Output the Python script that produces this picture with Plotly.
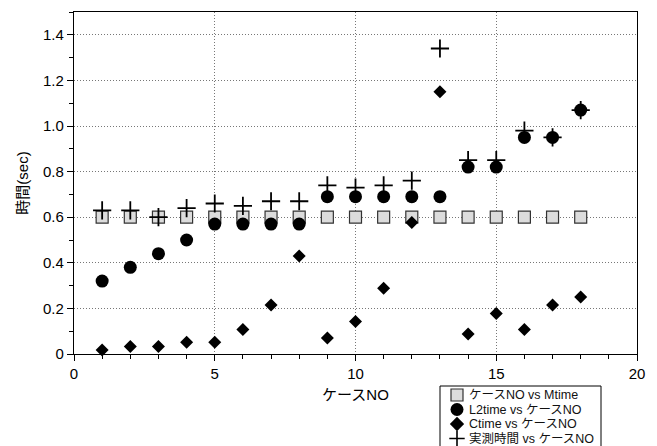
import plotly.graph_objects as go

case_no = list(range(1, 19))
mtime = [0.6] * 18
l2time = [0.32, 0.38, 0.44, 0.50, 0.57, 0.57, 0.57, 0.57, 0.69, 0.69, 0.69, 0.69, 0.69,
          0.82, 0.82, 0.95, 0.95, 1.07]
ctime = [0.018, 0.033, 0.033, 0.052, 0.052, 0.107, 0.215, 0.43, 0.07, 0.143, 0.288, 0.577,
         1.15, 0.088, 0.178, 0.107, 0.215, 0.25]
measured = [0.63, 0.63, 0.60, 0.64, 0.66, 0.65, 0.67, 0.67, 0.74, 0.73, 0.74, 0.76, 1.34,
            0.85, 0.85, 0.98, 0.95, 1.07]

series_names = ["ケースNO vs Mtime", "L2time vs ケースNO", "Ctime vs ケースNO", "実測時間 vs ケースNO"]

x_tick_vals = [0, 5, 10, 15, 20]
x_tick_text = ["0", "5", "10", "15", "20"]
y_tick_vals = [0, 0.2, 0.4, 0.6, 0.8, 1.0, 1.2, 1.4]
y_tick_text = ["0", "0.2", "0.4", "0.6", "0.8", "1.0", "1.2", "1.4"]

FONT = "Liberation Sans, Arial, Noto Sans CJK JP, sans-serif"
W, H = 657, 446
# plot area in pixels
PL, PR, PT, PB = 74, 637, 12, 354
# legend box in pixels
LL, LR, LT = 440, 601, 386

styles = [
    dict(symbol="square", size=12, color="#dcdcdc", line=dict(color="#333333", width=1.2)),
    dict(symbol="circle", size=13, color="black"),
    dict(symbol="diamond", size=10, color="black"),
    dict(symbol="cross-thin", size=13, color="black", line=dict(color="black", width=1.8)),
]
series_values = [mtime, l2time, ctime, measured]

fig = go.Figure()
for name, vals, st in zip(series_names, series_values, styles):
    fig.add_trace(go.Scatter(x=case_no, y=vals, mode="markers", name=name,
                             marker=st, showlegend=False, cliponaxis=False))

# custom legend (compact rows like the reference)
leg_styles = [
    dict(symbol="square", size=12, color="#dcdcdc", line=dict(color="#333333", width=1.2)),
    dict(symbol="circle", size=13, color="black"),
    dict(symbol="diamond", size=11, color="black"),
    dict(symbol="cross-thin", size=11, color="black", line=dict(color="black", width=1.6)),
]
row_gap = 14.5
first_row = 9
for i, (name, st) in enumerate(zip(series_names, leg_styles)):
    ry = first_row + i * row_gap
    fig.add_trace(go.Scatter(x=[17], y=[ry], mode="markers", marker=st,
                             xaxis="x2", yaxis="y2", showlegend=False,
                             cliponaxis=False, hoverinfo="skip"))
    fig.add_annotation(x=27, y=ry, xref="x2", yref="y2", text=name, showarrow=False,
                       xanchor="left", yanchor="middle",
                       font=dict(family=FONT, size=12.5, color="#111111"))

fig.add_shape(type="rect", xref="paper", yref="paper",
              x0=LL / W, x1=LR / W, y0=-0.05, y1=(H - LT) / H,
              line=dict(color="black", width=1), fillcolor="rgba(0,0,0,0)", layer="below")

axis_common = dict(
    showline=True, linecolor="black", linewidth=1.2, mirror=True,
    ticks="outside", ticklen=6, tickcolor="black", tickwidth=1,
    showgrid=True, gridcolor="#777777", griddash="1px,2px", gridwidth=1,
    zeroline=False, tickfont=dict(family=FONT, size=15, color="black"),
)

fig.update_layout(
    xaxis=dict(domain=[PL / W, PR / W], range=[0, 20], tickvals=x_tick_vals, ticktext=x_tick_text,
               minor=dict(ticks="outside", dtick=1, ticklen=4, tickcolor="black", showgrid=False),
               title=dict(text="ケースNO", font=dict(family=FONT, size=15, color="black"), standoff=8),
               anchor="y", **axis_common),
    yaxis=dict(domain=[(H - PB) / H, (H - PT) / H], range=[0, 1.5], tickvals=y_tick_vals,
               ticktext=y_tick_text,
               minor=dict(ticks="outside", dtick=0.1, ticklen=4, tickcolor="black", showgrid=False),
               title=dict(text="時間(sec)", font=dict(family=FONT, size=15, color="black"), standoff=10),
               anchor="x", **axis_common),
    xaxis2=dict(domain=[LL / W, LR / W], range=[0, LR - LL], visible=False, anchor="y2",
                fixedrange=True),
    yaxis2=dict(domain=[0, (H - LT) / H], range=[H - LT, 0], visible=False, anchor="x2",
                fixedrange=True),
    width=W, height=H,
    margin=dict(l=0, r=0, t=0, b=0, autoexpand=False),
    plot_bgcolor="white", paper_bgcolor="white",
    font=dict(family=FONT, color="black"),
    showlegend=False,
)

fig.write_html("out.html", config={"displayModeBar": False},
               post_script="document.body.style.margin='0';")
